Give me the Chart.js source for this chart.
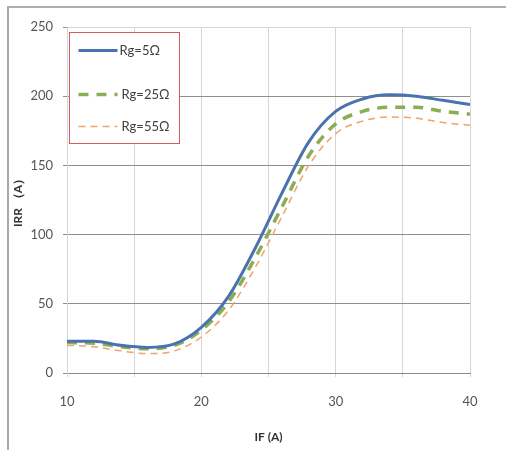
<!DOCTYPE html>
<html>
<head>
<meta charset="utf-8">
<script src="https://cdn.jsdelivr.net/npm/chart.js@4/dist/chart.umd.min.js"></script>
<style>
  html, body { margin: 0; padding: 0; background: #fff; }
  #wrap { position: relative; width: 506px; height: 450px; }
  #frame { position: absolute; left: 7px; top: 6px; width: 499px; height: 444px;
           border-top: 2px solid #b0b0b0; border-left: 2px solid #a8a8a8; box-sizing: border-box; }
  canvas { position: absolute; left: 0; top: 0; }
</style>
</head>
<body>
<div id="wrap">
  <div id="frame"></div>
  <canvas id="c" width="506" height="450"></canvas>
</div>
<script>
// ---- data ----
const IF_A = [10, 12, 14, 16, 18, 20, 22, 24, 26, 28, 30, 32, 34, 36, 38, 40];
const rg5  = [23, 23, 20, 18.5, 21, 33, 55, 90, 130, 167, 189, 198, 201, 200, 197, 194];
const rg25 = [22, 21.5, 19, 17.5, 20, 31, 51, 83, 120, 157, 180, 189, 192, 192, 189, 187];
const rg55 = [20, 19, 16, 14, 16, 26, 45, 76, 113, 150, 173, 182, 185, 184, 181, 179];
const seriesLabels = ['Rg=5Ω', 'Rg=25Ω', 'Rg=55Ω'];
const xTitle = 'IF (A)';
const yTitle = 'IRR （A）';

const toXY = arr => arr.map((v, i) => ({ x: IF_A[i], y: v }));
const FONT = 'Lato, "Open Sans", sans-serif';

const insideLegend = {
  id: 'insideLegend',
  afterDraw(chart) {
    const ctx = chart.ctx;
    const a = chart.chartArea;
    const bx = a.left + 2.5, by = a.top + 5.5, bw = 110, bh = 111;
    ctx.save();
    ctx.fillStyle = '#ffffff';
    ctx.fillRect(bx, by, bw, bh);
    ctx.strokeStyle = '#d95b5b';
    ctx.lineWidth = 1;
    ctx.strokeRect(bx, by, bw, bh);
    const rows = [18, 62, 94];
    chart.data.datasets.forEach((ds, i) => {
      const y = by + rows[i];
      ctx.beginPath();
      ctx.strokeStyle = ds.borderColor;
      ctx.lineWidth = ds.borderWidth;
      ctx.setLineDash(ds.borderDash || []);
      ctx.moveTo(bx + 9, y);
      ctx.lineTo(bx + 48, y);
      ctx.stroke();
      ctx.setLineDash([]);
      ctx.fillStyle = '#404040';
      ctx.font = '13px ' + FONT;
      ctx.textBaseline = 'middle';
      ctx.textAlign = 'left';
      ctx.fillText(ds.label, bx + (i === 0 ? 50 : 52), y);
    });
    ctx.restore();
  }
};

new Chart(document.getElementById('c'), {
  type: 'line',
  data: {
    datasets: [
      { label: seriesLabels[0], data: toXY(rg5), borderColor: '#4a73ae', borderWidth: 3,
        pointRadius: 0, cubicInterpolationMode: 'monotone', fill: false },
      { label: seriesLabels[1], data: toXY(rg25), borderColor: '#8cae52', borderWidth: 3.5,
        borderDash: [10, 8], pointRadius: 0, cubicInterpolationMode: 'monotone', fill: false },
      { label: seriesLabels[2], data: toXY(rg55), borderColor: '#f0a36a', borderWidth: 1.5,
        borderDash: [7, 5], pointRadius: 0, cubicInterpolationMode: 'monotone', fill: false }
    ]
  },
  options: {
    responsive: false,
    animation: false,
    layout: { padding: { left: 0, top: 27, right: 36, bottom: 0 } },
    plugins: { legend: { display: false }, tooltip: { enabled: false } },
    scales: {
      x: {
        type: 'linear', min: 10, max: 40,
        afterFit: s => { s.height = 77; },
        ticks: { stepSize: 5, autoSkip: false, maxRotation: 0, padding: 17, color: '#555',
                 font: { family: FONT, size: 13 },
                 callback: v => (v % 10 === 0 ? String(v) : '') },
        grid: { color: '#d6d6d6', lineWidth: 1, tickLength: 4, tickColor: '#d6d6d6' },
        border: { color: '#8a8a8a', width: 1 },
        title: { display: true, text: xTitle, color: '#333', padding: { top: 6, bottom: 6 },
                 font: { family: FONT, size: 12, weight: 'bold' } }
      },
      y: {
        min: 0, max: 250,
        afterFit: s => { s.width = 67; },
        ticks: { stepSize: 50, padding: 10, color: '#555', font: { family: FONT, size: 13 } },
        grid: { color: ctx => (ctx.tick && ctx.tick.value === 250 ? '#d6d6d6' : '#8f8f8f'),
                lineWidth: 1, tickLength: 4, tickColor: '#8f8f8f' },
        border: { color: '#d6d6d6', width: 1 },
        title: { display: true, text: yTitle, color: '#333', padding: { top: 11, bottom: 0 },
                 font: { family: FONT, size: 12, weight: 'bold' } }
      }
    }
  },
  plugins: [insideLegend]
});
</script>
</body>
</html>
